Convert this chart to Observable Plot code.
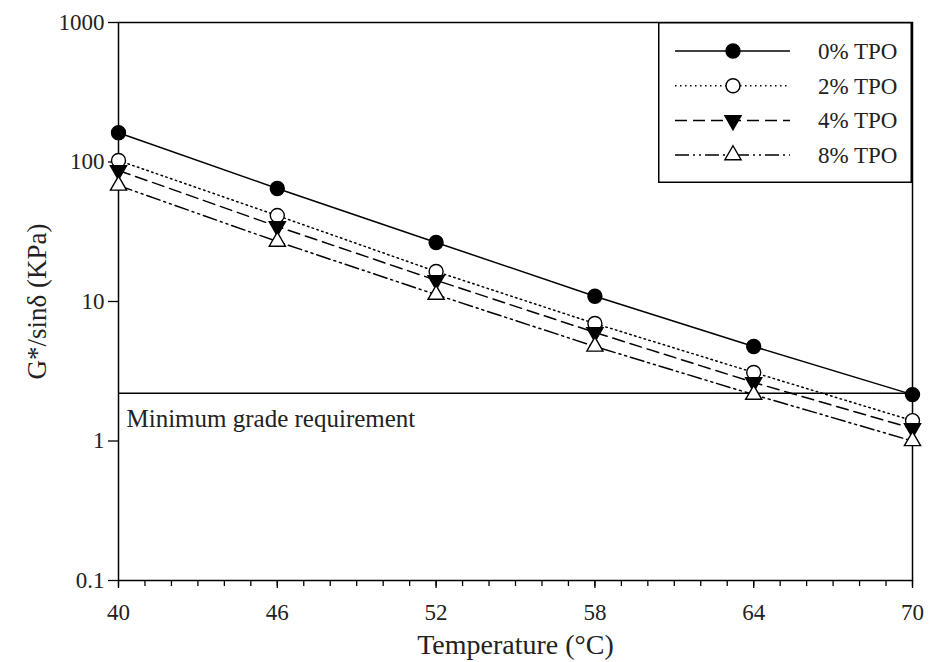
<!DOCTYPE html>
<html><head><meta charset="utf-8">
<script src="https://cdn.jsdelivr.net/npm/d3@7"></script>
<script src="https://cdn.jsdelivr.net/npm/@observablehq/plot@0.6"></script>
<style>
body{margin:0;background:#fff;}
#wrap{position:relative;width:930px;height:662px;}
#legend{position:absolute;left:658px;top:22px;}
</style></head><body><div id="wrap"></div>
<script>
const temperatures = [40, 46, 52, 58, 64, 70];
const series = ["0% TPO", "2% TPO", "4% TPO", "8% TPO"];
const tpo0 = [162, 64.6, 26.5, 10.9, 4.76, 2.15];
const tpo2 = [102.5, 41.3, 16.4, 6.95, 3.1, 1.40];
const tpo4 = [87, 34.5, 14.2, 6.0, 2.63, 1.23];
const tpo8 = [67.9, 26.9, 11.2, 4.76, 2.15, 1.0];
const minGrade = 2.2;
const minGradeLabel = "Minimum grade requirement";
const xTicks = [40, 46, 52, 58, 64, 70];
const xMinorTicks = d3.range(40, 71, 1);
const yTicks = [0.1, 1, 10, 100, 1000];

const FONT = "'Liberation Serif', 'DejaVu Serif', serif";
const triDown = {
  draw(ctx, size) {
    const y = -Math.sqrt(size / (Math.sqrt(3) * 3));
    ctx.moveTo(0, -y * 2);
    ctx.lineTo(-Math.sqrt(3) * y, y);
    ctx.lineTo(Math.sqrt(3) * y, y);
    ctx.closePath();
  }
};
const styles = [
  {dash: null, symbol: "circle", fill: "black", r: 7},
  {dash: "1.5,3.5", symbol: "circle", fill: "white", r: 7},
  {dash: "12,6", symbol: triDown, fill: "black", r: 6},
  {dash: "14,4,2,4,2,4", symbol: "triangle", fill: "white", r: 6}
];
const values = [tpo0, tpo2, tpo4, tpo8];
const tables = values.map((vals, k) => temperatures.map((t, i) => ({t, v: vals[i], s: series[k]})));

const marks = [
  Plot.axisX(xMinorTicks, {tickSize: 6, text: null, strokeWidth: 1.3, label: null}),
  Plot.axisX(xTicks, {tickSize: 8, text: null, strokeWidth: 1.3, label: null}),
  Plot.axisY(yTicks, {tickSize: 10, text: null, strokeWidth: 1.3, label: null}),
  Plot.text(xTicks, {x: d => d, text: d => String(d), frameAnchor: "bottom", lineAnchor: "middle", dy: 32, fontSize: 23, fill: "#222"}),
  Plot.text(yTicks, {y: d => d, text: d => String(d), frameAnchor: "left", dx: -14, textAnchor: "end", fontSize: 23, fill: "#222"}),
  Plot.frame({strokeWidth: 1.5}),
  Plot.ruleY([minGrade], {strokeWidth: 1.3}),
  Plot.text([minGradeLabel], {x: () => 40, y: () => minGrade, dx: 8, dy: 26, textAnchor: "start", fontSize: 25, fill: "#222"}),
  Plot.text(["Temperature (°C)"], {frameAnchor: "bottom", lineAnchor: "middle", textAnchor: "middle", dy: 65, fontSize: 28, fill: "#222"}),
  Plot.text(["G*/sinδ (KPa)"], {frameAnchor: "left", textAnchor: "middle", lineAnchor: "middle", dx: -81, dy: 0, rotate: -90, fontSize: 27, fill: "#222"})
];
tables.forEach((tb, k) => {
  marks.push(Plot.line(tb, {x: "t", y: "v", stroke: "black", strokeWidth: 1.5, strokeDasharray: styles[k].dash}));
});
tables.forEach((tb, k) => {
  marks.push(Plot.dot(tb, {x: "t", y: "v", symbol: () => styles[k].symbol, r: styles[k].r, fill: styles[k].fill, stroke: "black", strokeWidth: 1.4}));
});

const chart = Plot.plot({
  width: 930, height: 662,
  marginLeft: 118, marginRight: 18, marginTop: 22, marginBottom: 82,
  style: {fontFamily: FONT, background: "white", overflow: "visible"},
  x: {domain: [40, 70], axis: null},
  y: {type: "log", domain: [0.1, 1000], axis: null},
  symbol: {type: "identity"},
  marks
});
document.getElementById("wrap").appendChild(chart);

// Legend box inside plot
const lw = 254, lh = 161;
const leg = d3.select("#wrap").append("svg").attr("id", "legend")
  .attr("width", lw).attr("height", lh).style("font-family", FONT);
leg.append("rect").attr("x", 0.75).attr("y", 0.75).attr("width", lw - 1.5).attr("height", lh - 1.5)
  .attr("fill", "white").attr("stroke", "black").attr("stroke-width", 1.5);
series.forEach((name, k) => {
  const cy = 29 + k * 34.7;
  leg.append("line").attr("x1", 17).attr("x2", 132).attr("y1", cy).attr("y2", cy)
    .attr("stroke", "black").attr("stroke-width", 1.5).attr("stroke-dasharray", styles[k].dash);
  const sym = typeof styles[k].symbol === "string" ? (styles[k].symbol === "circle" ? d3.symbolCircle : d3.symbolTriangle) : styles[k].symbol;
  leg.append("path").attr("d", d3.symbol(sym, styles[k].r * styles[k].r * Math.PI)())
    .attr("transform", `translate(75,${cy})`).attr("fill", styles[k].fill).attr("stroke", "black").attr("stroke-width", 1.4);
  leg.append("text").attr("x", 160).attr("y", cy).attr("dy", "0.35em").attr("font-size", 23).attr("fill", "#222").text(name);
});
</script></body></html>
